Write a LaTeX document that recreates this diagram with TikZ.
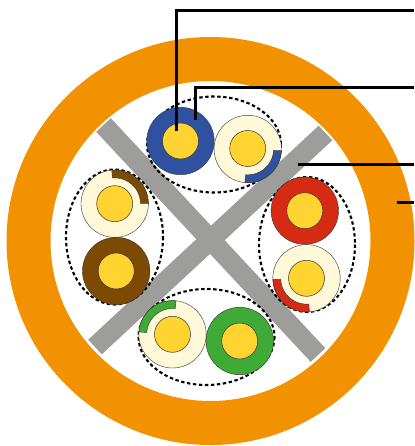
\documentclass[tikz,border=0pt]{standalone}
\definecolor{ringorange}{HTML}{F39200}
\definecolor{bargray}{HTML}{9D9D9C}
\definecolor{coreyellow}{HTML}{FFD330}
\definecolor{creamins}{HTML}{FFF9D9}
\definecolor{pairblue}{HTML}{2F52A0}
\definecolor{pairbrown}{HTML}{7C4A03}
\definecolor{pairred}{HTML}{D52B14}
\definecolor{pairgreen}{HTML}{3FAA35}
\tikzset{
  x=1pt,y=-1pt,
  insul/.style={circle,draw=black!80,line width=0.4pt,inner sep=0pt,minimum size=67.4pt},
  core/.style={circle,draw=black!80,line width=0.5pt,fill=coreyellow,inner sep=0pt,minimum size=36pt},
  pairring/.style={dash pattern=on 3.4pt off 2.6pt,line width=2.1pt,draw=black},
  spoke/.style={draw=bargray,line width=20pt},
  leader/.style={draw=black,line width=2.6pt},
  stripe/.style={draw=black!80,line width=0.4pt}
}
% centre x, centre y, start angle, end angle, colour (angles counter-clockwise on screen)
\newcommand{\stripearc}[5]{%
  \path[stripe,fill=#5]
    plot[smooth,domain=#3:#4,samples=30] ({#1+33.6*cos(\x)},{#2-33.6*sin(\x)})
    -- plot[smooth,domain=#4:#3,samples=30] ({#1+25.8*cos(\x)},{#2-25.8*sin(\x)})
    -- cycle;}
\begin{document}
\begin{tikzpicture}
\useasboundingbox (0,0) rectangle (414,446);
\fill[white] (0,0) rectangle (414,446);
% jacket
\fill[ringorange,even odd rule] (210.5,241) circle[radius=204] (210.5,241) circle[radius=160];
% cross separator
\coordinate (s1a) at (103.5,125);
\coordinate (s1b) at (318,355);
\coordinate (s2a) at (325.5,133);
\coordinate (s2b) at (95,347);
\draw[spoke] (s1a) -- (s1b);
\draw[spoke] (s2a) -- (s2b);
% pair ellipses
\draw[pairring] (214,144.5) ellipse[x radius=67,y radius=48];
\draw[pairring] (114.5,237) ellipse[x radius=48.5,y radius=67.5];
\draw[pairring] (307,244.5) ellipse[x radius=48,y radius=67.5];
\draw[pairring] (206.5,337) ellipse[x radius=68,y radius=48];
% blue pair
\node[insul,fill=pairblue] (blue) at (180.5,141) {};
\node[core] (bluecore) at (180.5,141) {};
\node[insul,fill=creamins] (bluew) at (247.8,149) {};
\stripearc{247.8}{149}{-3}{-95}{pairblue}
\node[core] (bluewcore) at (247.7,148.5) {};
% brown pair
\node[insul,fill=creamins] (brownw) at (114.7,203.7) {};
\stripearc{114.7}{203.7}{0}{95}{pairbrown}
\node[core] (brownwcore) at (114.7,203.7) {};
\node[insul,fill=pairbrown] (brown) at (116.2,271) {};
\node[core] (browncore) at (116.2,271) {};
% red pair
\node[insul,fill=pairred] (red) at (304.8,210.7) {};
\node[core] (redcore) at (304.8,210.7) {};
\node[insul,fill=creamins] (redw) at (306.5,278.3) {};
\stripearc{306.5}{278.3}{182}{275}{pairred}
\node[core] (redwcore) at (306.5,278.3) {};
% green pair
\node[insul,fill=creamins] (greenw) at (172.5,334.3) {};
\stripearc{172.5}{334.3}{84}{176}{pairgreen}
\node[core] (greenwcore) at (172.5,334.3) {};
\node[insul,fill=pairgreen] (green) at (239.7,341) {};
\node[core] (greencore) at (239.7,341) {};
% leaders
\coordinate (l1end) at (414,10.7);
\coordinate (l2end) at (414,87.7);
\coordinate (l3end) at (414,164.3);
\coordinate (l4end) at (414,202.7);
\coordinate (l1s) at (176.7,130.7);
\coordinate (l2s) at (195.3,120);
\coordinate (l3s) at (297.7,164.3);
\coordinate (l4s) at (397.3,202.7);
\draw[leader] (l1s) |- (l1end);
\draw[leader] (l2s) |- (l2end);
\draw[leader] (l3s) -- (l3end);
\draw[leader] (l4s) -- (l4end);
\end{tikzpicture}
\end{document}
